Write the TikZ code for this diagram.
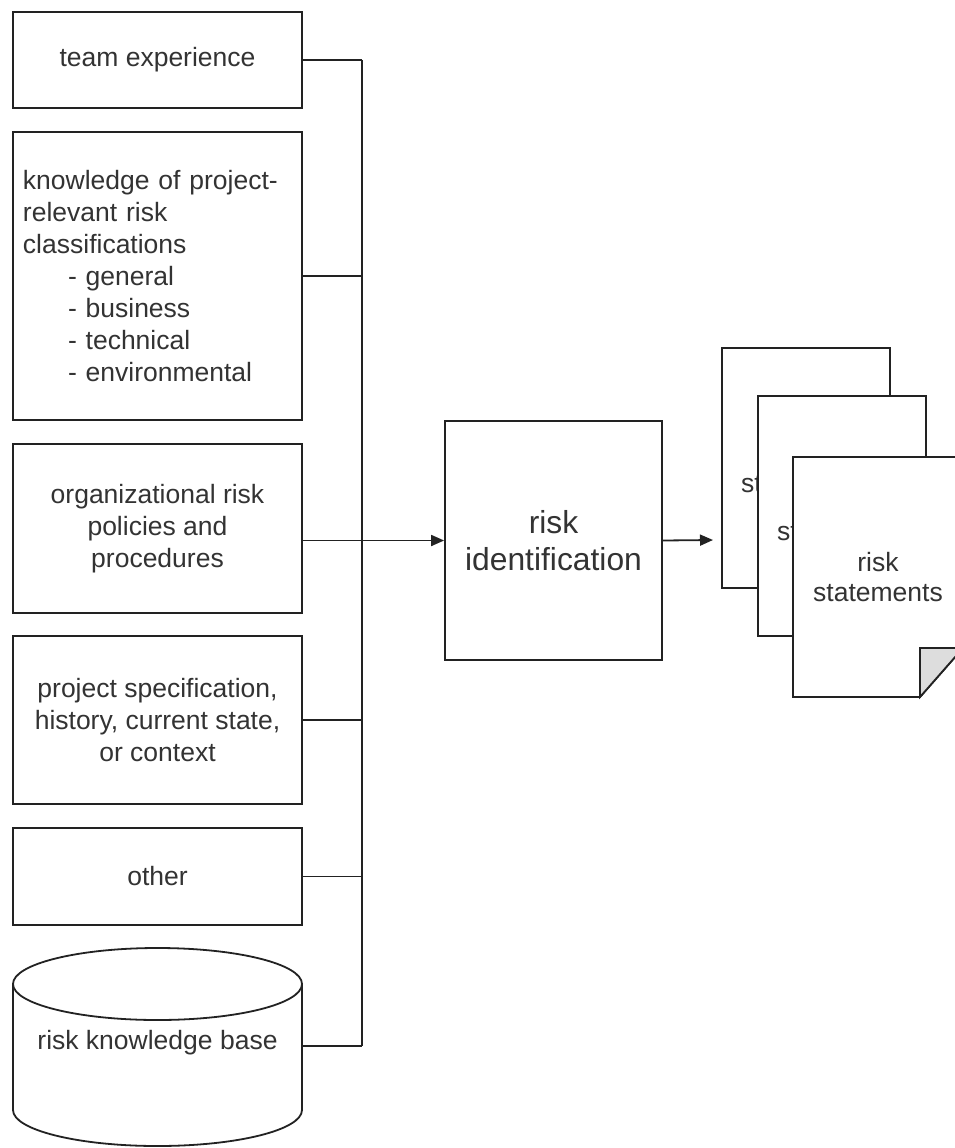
\documentclass[tikz,border=0pt]{standalone}
\usepackage{fontspec}
\setmainfont{Liberation Sans}
\usetikzlibrary{arrows.meta}
\definecolor{ink}{HTML}{222222}
\definecolor{txt}{HTML}{333333}
\definecolor{fold}{HTML}{DDDDDD}
\begin{document}
\begin{tikzpicture}[x=1pt,y=-1pt,
  line width=1.8pt,
  every node/.style={text=txt},
  box/.style={draw=ink,fill=white,inner sep=0pt,align=center,
    font=\fontsize{26.5}{32}\selectfont},
  srcbox/.style={box,minimum width=289pt},
  page/.style={draw=ink,fill=white,minimum width=168pt,minimum height=240pt,
    inner sep=0pt,align=center,font=\fontsize{26.5}{30.5}\selectfont},
  link/.style={draw=ink,line width=1.8pt},
  arr/.style={link,-{Triangle[length=13pt,width=11pt]}}]
\useasboundingbox (0,0) rectangle (955,1148);
\fill[white] (0,0) rectangle (955,1148);

% input sources
\node[srcbox,minimum height=96pt] (team) at (157.5,60) {team experience};
\node[box,text width=269pt,inner xsep=10pt,minimum height=288pt,align=left] (know) at (157.5,276)
  {knowledge of project-\\relevant risk\\classifications\\
   \hspace*{45pt}- general\\\hspace*{45pt}- business\\\hspace*{45pt}- technical\\\hspace*{45pt}- environmental};
\node[srcbox,minimum height=169pt] (org) at (157.5,528.5) {organizational risk\\policies and\\procedures};
\node[srcbox,minimum height=168pt] (spec) at (157.5,720) {project specification,\\history, current state,\\or context};
\node[srcbox,minimum height=97pt] (other) at (157.5,876.5) {other};

% knowledge base drum
\draw[ink,fill=white] (13,984) -- (13,1110) arc[start angle=180,end angle=360,x radius=144.5pt,y radius=36pt]
  -- (302,984);
\draw[ink,fill=white] (157.5,984) ellipse[x radius=144.5pt,y radius=36pt];
\node[font=\fontsize{26.5}{32}\selectfont] (kb) at (157.5,1043) {risk knowledge base};
\coordinate (kbout) at (302,1046);

% central process
\node[box,minimum width=217pt,minimum height=239pt,font=\fontsize{31.8}{37}\selectfont] (rid) at (553.5,540.5)
  {risk\\identification};

% collecting bus
\coordinate (bustop) at (362,60);
\coordinate (busbot) at (362,1046);
\draw[link] (bustop) -- (busbot);
\draw[link] (team.east) -- (team.east -| bustop);
\draw[link] (know.east) -- (know.east -| bustop);
\draw[link] (spec.east) -- (spec.east -| bustop);
\draw[link] (other.east) -- (other.east -| bustop);
\draw[link] (kbout) -- (busbot);
\draw[arr] (rid.west -| org.east) -- (rid.west);

% output documents
\coordinate (outtip) at (713,540);
\draw[arr] (rid.east) -- (outtip);
\node[page] (doc1) at (806,468) {risk\\statements};
\node[page] (doc2) at (842,516) {risk\\statements};
\draw[ink,fill=white] (793,457) -- (963,457) -- (963,648) -- (920,697) -- (793,697) -- cycle;
\draw[ink,fill=fold,line join=miter] (920,697) -- (920,648) -- (963,648) -- cycle;
\node[font=\fontsize{26.5}{30.5}\selectfont,align=center] (doc3) at (878,577) {risk\\statements};
\end{tikzpicture}
\end{document}
